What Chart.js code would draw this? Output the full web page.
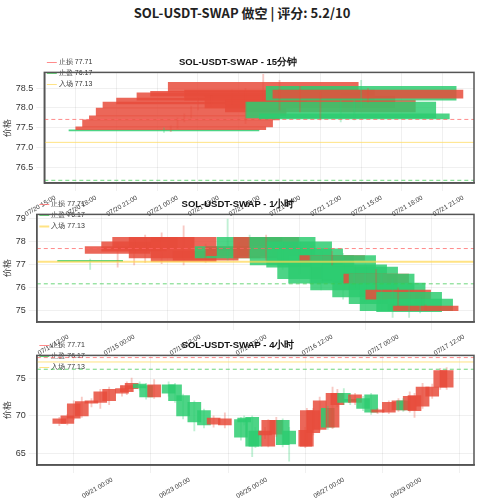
<!DOCTYPE html>
<html><head><meta charset="utf-8">
<script src="https://cdn.jsdelivr.net/npm/chart.js@4.4.0/dist/chart.umd.min.js"></script>
<style>
body{margin:0;width:484px;height:500px;background:#fff;font-family:"Noto Sans CJK SC","DejaVu Sans",sans-serif;position:relative;overflow:hidden}
#ttl{position:absolute;top:3px;left:0;width:484px;text-align:center;font-weight:bold;font-size:13px;color:#222}
.box{position:absolute;left:0;width:484px}
</style></head><body>
<div id="ttl">SOL-USDT-SWAP 做空 | 评分: 5.2/10</div>
<div class="box" style="top:55px;height:166px"><canvas id="c15"></canvas></div>
<div class="box" style="top:197px;height:163px"><canvas id="c1h"></canvas></div>
<div class="box" style="top:338px;height:165px"><canvas id="c4h"></canvas></div>
<script>
// levels
var stopLoss = 77.71, takeProfit = 76.17, entry = 77.13;

// 15m candles: start hour (from 07/20 00:00), open, close, high, low
var t15 = [16.0, 16.5, 17.0, 17.5, 18.0, 18.5, 19.5, 21.0, 22.0, 23.3, 24.5, 26.0, 27.5, 29.0, 30.0, 30.5, 31.0];
var o15 = [77.45, 77.45, 77.52, 77.70, 77.80, 78.00, 78.10, 78.20, 78.30, 78.40, 78.20, 78.00, 77.90, 78.15, 77.85, 78.55, 78.25];
var c15 = [77.42, 77.52, 77.70, 77.80, 78.00, 78.15, 78.25, 78.38, 78.42, 78.65, 78.45, 78.30, 78.20, 77.75, 77.72, 78.20, 78.45];
var h15 = [77.50, 77.55, 77.75, 77.85, 78.05, 78.25, 78.30, 78.45, 78.50, 78.85, 78.70, 78.55, 78.40, 78.20, 78.20, 78.70, 78.50];
var l15 = [77.38, 77.40, 77.48, 77.65, 77.75, 77.95, 78.05, 78.10, 77.60, 78.20, 77.95, 77.90, 77.70, 77.65, 77.70, 78.00, 78.15];

// 1h candles: start hour (from 07/14 00:00)
var t1h = [10, 15, 18, 20, 23, 27, 31, 35, 37, 39, 42, 45, 48, 50, 52, 54, 56, 58, 60, 62, 63, 65, 66, 68, 70, 71];
var o1h = [77.20, 77.50, 77.60, 77.70, 77.30, 77.15, 77.20, 77.80, 77.40, 78.20, 77.30, 78.20, 78.00, 77.70, 77.40, 77.20, 77.40, 77.00, 76.90, 76.20, 76.60, 76.20, 75.50, 75.80, 75.50, 75.00];
var c1h = [77.15, 77.80, 78.00, 78.20, 78.20, 78.20, 77.60, 77.30, 77.80, 77.40, 78.20, 77.00, 76.90, 76.40, 76.20, 77.40, 75.90, 76.30, 75.60, 76.60, 75.30, 75.00, 75.90, 74.95, 75.00, 75.20];
var h1h = [77.25, 77.90, 78.10, 78.30, 78.40, 78.70, 77.90, 79.00, 78.00, 78.30, 78.30, 78.20, 78.10, 77.80, 77.60, 77.60, 77.50, 77.20, 77.00, 76.80, 76.70, 76.40, 76.00, 75.90, 75.60, 75.25];
var l1h = [76.80, 76.90, 77.00, 77.10, 77.05, 77.00, 77.10, 77.20, 77.30, 77.30, 77.20, 76.80, 76.60, 76.20, 75.90, 77.00, 75.50, 76.00, 75.40, 75.90, 75.00, 74.70, 75.20, 74.70, 74.90, 75.00];

// 4h candles: centre hour (from 06/21 00:00)
var t4h = [-33, -28, -24, -19, -13, -7.5, -2, 6, 9, 12, 17, 21, 26, 35, 39, 44, 51, 57, 63, 70, 80, 82, 87, 89, 95, 97, 102, 106, 110, 120, 121, 125, 129, 134, 137, 140, 144, 148, 151, 156, 161, 165, 172, 178, 181, 185, 188, 193, 199, 204, 208];
var o4h = [69.0, 69.0, 69.7, 70.0, 71.7, 71.8, 72.0, 73.0, 73.2, 73.6, 74.2, 74.0, 72.5, 74.1, 74.1, 72.7, 71.8, 70.7, 68.9, 68.8, 69.5, 69.7, 69.8, 68.0, 67.5, 66.0, 67.6, 69.4, 68.0, 66.0, 66.0, 67.8, 68.2, 71.0, 68.5, 71.5, 73.0, 72.2, 71.8, 72.3, 72.8, 70.5, 70.5, 70.8, 72.0, 70.8, 70.7, 71.3, 72.6, 73.8, 73.8];
var c4h = [69.6, 70.0, 71.6, 71.9, 72.0, 73.2, 73.5, 73.6, 74.0, 74.3, 73.7, 72.5, 74.1, 73.0, 72.0, 70.0, 69.2, 68.8, 69.7, 69.6, 67.2, 69.2, 66.0, 66.0, 68.0, 69.4, 69.4, 66.2, 66.3, 68.1, 70.7, 70.7, 72.0, 68.5, 73.0, 73.0, 71.8, 71.9, 72.8, 71.0, 70.5, 70.8, 71.8, 72.0, 70.8, 72.6, 72.7, 73.8, 73.8, 76.0, 76.0];
var h4h = [69.8, 70.2, 72.0, 72.5, 72.3, 73.5, 73.8, 74.0, 74.5, 75.0, 74.5, 74.3, 74.8, 74.5, 74.3, 72.9, 72.0, 70.9, 70.0, 70.4, 69.8, 70.0, 70.0, 68.5, 68.5, 69.5, 69.8, 69.6, 68.5, 68.5, 71.0, 71.0, 72.5, 71.3, 73.8, 73.5, 73.6, 72.5, 73.0, 72.6, 73.0, 71.0, 72.0, 72.3, 72.3, 73.2, 73.0, 74.3, 74.2, 76.3, 76.4];
var l4h = [68.7, 68.8, 69.5, 69.8, 71.2, 71.0, 71.5, 72.6, 72.8, 73.3, 73.4, 72.2, 72.3, 72.6, 71.8, 69.6, 68.0, 68.4, 68.5, 68.4, 66.8, 68.8, 64.6, 65.8, 67.0, 65.9, 67.3, 65.9, 64.0, 65.8, 66.0, 67.5, 68.0, 68.2, 68.3, 71.2, 71.5, 71.5, 71.5, 70.7, 70.2, 70.3, 70.3, 70.6, 70.6, 70.5, 69.8, 71.0, 72.3, 73.5, 73.5];

var RED = 'rgba(231,76,60,0.85)', GREEN = 'rgba(46,204,113,0.85)';

function fmt(base, h) {
  var d = new Date(base + h * 3600e3);
  var p = function (n) { return (n < 10 ? '0' : '') + n; };
  return p(d.getUTCMonth() + 1) + '/' + p(d.getUTCDate()) + ' ' + p(d.getUTCHours()) + ':00';
}

// full frame around the plot area
var frame = {
  id: 'frame',
  afterDraw: function (chart) {
    var a = chart.chartArea, ctx = chart.ctx;
    ctx.save();
    ctx.strokeStyle = '#555';
    ctx.lineWidth = 1.5;
    ctx.strokeRect(a.left, a.top, a.right - a.left, a.bottom - a.top);
    ctx.restore();
  }
};

function build(id, title, cfg) {
  var bodies = [], wicks = [], cols = [], wcols = [];
  for (var i = 0; i < cfg.t.length; i++) {
    var x = cfg.t[i] + cfg.shift;
    bodies.push({ x: x, y: [cfg.o[i], cfg.c[i]] });
    wicks.push({ x: x, y: [cfg.l[i], cfg.h[i]] });
    var up = cfg.c[i] >= cfg.o[i];
    cols.push(up ? RED : GREEN);
    wcols.push(up ? 'rgba(231,76,60,0.3)' : 'rgba(46,204,113,0.3)');
  }
  function hline(label, y, color, dash, w) {
    return { type: 'line', label: label, data: [{ x: cfg.min, y: y }, { x: cfg.max, y: y }],
      borderColor: color, borderDash: dash, borderWidth: w, pointRadius: 0, order: 0 };
  }
  new Chart(document.getElementById(id), {
    type: 'bar',
    data: {
      datasets: [
        { label: 'body', data: bodies, backgroundColor: cols, barThickness: cfg.bw, grouped: false, order: 2 },
        { label: 'wick', data: wicks, backgroundColor: wcols, barThickness: 1.2, grouped: false, order: 1 },
        hline('止损 77.71', stopLoss, 'rgba(255,100,100,0.75)', [4, 3], 1),
        hline('止盈 76.17', takeProfit, 'rgba(60,200,80,0.75)', [4, 3], 1),
        hline('入场 77.13', entry, 'rgba(255,215,80,0.7)', [], cfg.ew)
      ]
    },
    plugins: [frame],
    options: {
      responsive: true, maintainAspectRatio: false, animation: false,
      layout: { padding: { left: 2, right: 10, top: 0, bottom: 0 } },
      plugins: {
        title: { display: true, text: title, color: '#111', font: { size: 9.5, weight: 'bold' }, padding: { top: 2, bottom: 4 } },
        tooltip: { enabled: false },
        legend: {
          position: 'chartArea', align: 'start',
          labels: {
            filter: function (it) { return it.text !== 'body' && it.text !== 'wick'; },
            usePointStyle: true, pointStyle: 'line', boxWidth: 16, font: { size: 7 }, color: '#333', padding: 4
          }
        }
      },
      scales: {
        x: {
          type: 'linear', min: cfg.min, max: cfg.max, offset: false,
          ticks: { stepSize: cfg.step, autoSkip: false, maxRotation: 30, minRotation: 30, font: { size: 6.5 }, color: '#333',
            callback: function (v) { return fmt(cfg.base, v); } },
          afterBuildTicks: function (ax) {
            var ts = [];
            for (var v = cfg.first; v <= cfg.max; v += cfg.step) ts.push({ value: v });
            ax.ticks = ts;
          },
          grid: { color: 'rgba(0,0,0,0.06)' },
          border: { color: '#555', width: 1.5 }
        },
        y: {
          min: cfg.ymin, max: cfg.ymax,
          ticks: { stepSize: cfg.ystep, font: { size: 9 }, color: '#333',
            callback: function (v) { return cfg.ystep < 1 ? v.toFixed(1) : v; } },
          afterBuildTicks: function (ax) {
            var ts = [];
            for (var v = cfg.yfirst; v <= cfg.ymax + 1e-9; v += cfg.ystep) ts.push({ value: +v.toFixed(2) });
            ax.ticks = ts;
          },
          title: { display: true, text: '价格', font: { size: 9 }, color: '#333', padding: 0 },
          grid: { color: 'rgba(0,0,0,0.06)' },
          border: { color: '#555', width: 1.5 }
        }
      }
    }
  });
}

build('c15', 'SOL-USDT-SWAP - 15分钟', { t: t15, o: o15, c: c15, h: h15, l: l15, shift: 7, bw: 190, ew: 1,
  min: 14.2, max: 45.8, first: 15, step: 3, base: Date.UTC(2025, 6, 20),
  ymin: 76.1, ymax: 78.9, yfirst: 76.5, ystep: 0.5 });
build('c1h', 'SOL-USDT-SWAP - 1小时', { t: t1h, o: o1h, c: c1h, h: h1h, l: l1h, shift: 6, bw: 65, ew: 2,
  min: 6.3, max: 85.8, first: 12, step: 12, base: Date.UTC(2025, 6, 14),
  ymin: 74.5, ymax: 79.2, yfirst: 75, ystep: 1 });
build('c4h', 'SOL-USDT-SWAP - 4小时', { t: t4h, o: o4h, c: c4h, h: h4h, l: l4h, shift: 0, bw: 13, ew: 1,
  min: -47, max: 225, first: 0, step: 48, base: Date.UTC(2025, 5, 21),
  ymin: 63.5, ymax: 78, yfirst: 65, ystep: 5 });
</script>
</body></html>
